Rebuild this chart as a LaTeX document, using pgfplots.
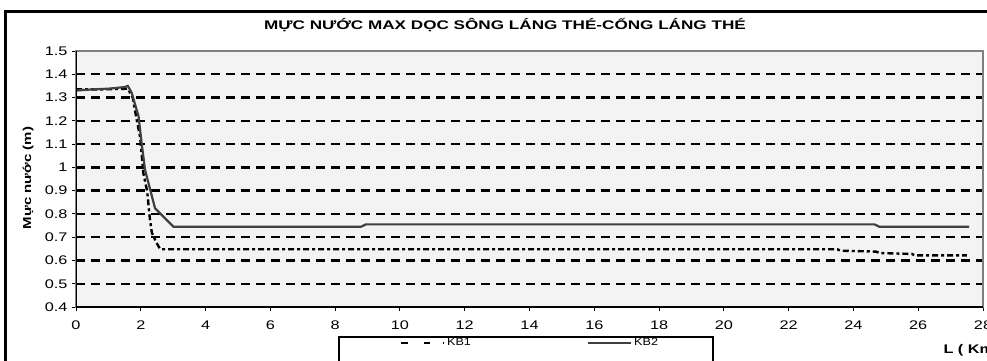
\documentclass[border=0pt]{standalone}
\usepackage{pgfplots}
\pgfplotsset{compat=1.18}
\usepackage{fontspec}
\setmainfont{Liberation Sans}
\newfontfamily\tickfont{Liberation Sans}[FakeStretch=1.3]
\newfontfamily\titlefont{Liberation Sans}[FakeStretch=1.37,BoldFont={* Bold}]
\newfontfamily\labfont{Liberation Sans}[FakeStretch=1.3]
\newfontfamily\legfont{Liberation Sans}[FakeStretch=1.2]
\definecolor{bgc}{HTML}{F3F3F3}
\definecolor{kb2c}{HTML}{404040}
\definecolor{brd}{HTML}{808080}
\begin{document}
\begin{tikzpicture}[x=1pt,y=1pt]
\useasboundingbox (0,0) rectangle (987,360);
\clip (0,0) rectangle (987,360);
\draw[line width=3pt] (5.5,348.5) rectangle (1000,-20);
\begin{axis}[
  at={(76pt,53pt)}, anchor=south west,
  scale only axis, width=907pt, height=256pt,
  xmin=0, xmax=28, ymin=0.4, ymax=1.5,
  xtick={0,2,4,6,8,10,12,14,16,18,20,22,24,26,28},
  ytick={0.4,0.5,0.6,0.7,0.8,0.9,1,1.1,1.2,1.3,1.4,1.5},
  axis background/.style={fill=bgc},
  axis line style={brd, line width=1.5pt},
  tick pos=left, tick align=outside,
  major tick length=4pt,
  every tick/.style={black, line width=1pt},
  ymajorgrids,
  major grid style={black, line width=2.3pt, dash pattern=on 9pt off 6pt},
  /pgf/number format/assume math mode=true,
  tick label style={font=\tickfont\fontsize{12.5}{14}\selectfont},
  yticklabel style={xshift=-1pt},
  xticklabel style={yshift=-6pt},
  title={MỰC NƯỚC MAX DỌC SÔNG LÁNG THÉ-CỐNG LÁNG THÉ},
  title style={font=\titlefont\bfseries\fontsize{12.5}{15}\selectfont, at={(axis description cs:0.473,1.078)}, anchor=center},
  ylabel={Mực nước (m)},
  ylabel style={font=\labfont\bfseries\fontsize{11.5}{13}\selectfont, at={(axis description cs:-0.0529,0.504)}, anchor=center},
  xlabel={L ( Km)},
  xlabel style={font=\labfont\bfseries\fontsize{12.5}{15}\selectfont, at={(axis description cs:0.9526,-0.168)}, anchor=west},
  legend columns=2,
  legend style={at={(axis description cs:0.3572,-0.1406)}, anchor=west, draw=none, fill=none,
    inner xsep=0pt, inner ysep=0pt, font=\legfont\fontsize{10.5}{11}\selectfont,
    /tikz/every even column/.append style={column sep=114pt}},
  legend image code/.code={\draw[#1] (0pt,0pt) -- (43pt,0pt);},
]
\addplot[black, line width=2.4pt, dash pattern=on 6pt off 3pt on 3pt off 3pt,
  legend image code/.code={\draw[black, line width=2pt, dash pattern=on 7pt off 16pt on 6pt off 13pt on 2pt] (0pt,0pt) -- (43pt,0pt);}]
coordinates {
(0,1.335) (0.8,1.335) (1.6,1.338) (1.75,1.30) (1.88,1.20) (1.98,1.13) (2.08,0.975)
(2.2,0.895) (2.25,0.82) (2.28,0.78) (2.34,0.72) (2.47,0.68) (2.6,0.648)
(23.5,0.648) (23.6,0.642) (24.7,0.638) (24.8,0.632) (25.8,0.628) (25.9,0.622) (27.5,0.622)
};
\addlegendentry{KB1}
\addplot[kb2c, line width=2.2pt] coordinates {
(0,1.330) (0.5,1.335) (1.0,1.338) (1.5,1.345) (1.6,1.350) (1.72,1.320) (1.93,1.22)
(2.03,1.10) (2.13,0.99) (2.44,0.824) (3.01,0.745) (8.8,0.745) (8.95,0.755)
(24.65,0.755) (24.8,0.745) (27.57,0.745)
};
\addlegendentry{KB2}
\draw[brd, line width=2pt] (rel axis cs:0,1) -- (rel axis cs:1,1) -- (rel axis cs:1,0);
\draw[black, line width=2.2pt] (rel axis cs:0,1) -- (rel axis cs:0,0) -- (rel axis cs:1,0);
\end{axis}
\draw[line width=1.8pt] (339,-10) rectangle (713,23);
\end{tikzpicture}
\end{document}
